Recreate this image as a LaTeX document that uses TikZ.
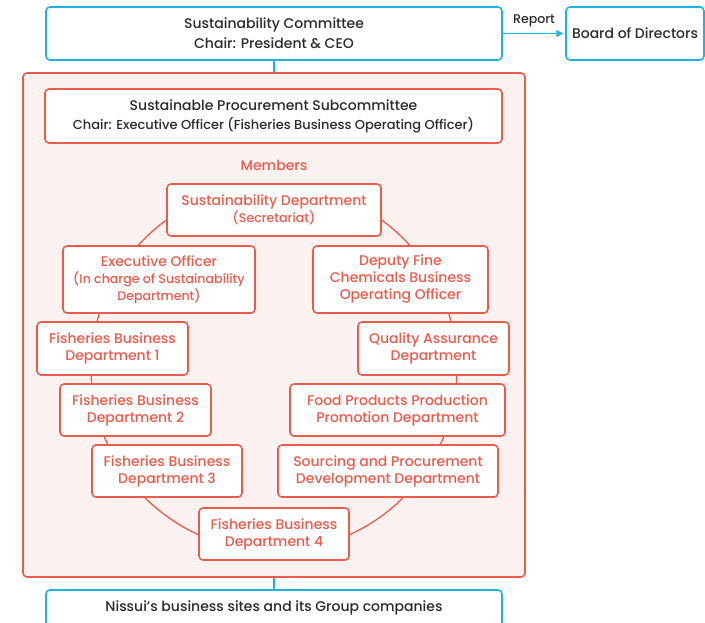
\documentclass[tikz,border=0pt]{standalone}
\usepackage{fontspec}
\setmainfont{Poppins Medium}
\usetikzlibrary{arrows.meta}
\definecolor{nsblue}{HTML}{1BB3E0}
\definecolor{nsred}{HTML}{EB5B4C}
\definecolor{nspink}{HTML}{FEF2F1}
\definecolor{nstext}{HTML}{2B2B2B}
\newcommand{\sm}{\fontsize{12.6}{15}\selectfont}

\begin{document}
\begin{tikzpicture}[x=1pt, y=-1pt, >={Triangle[length=2.4mm, width=2.4mm]}, line width=1.6pt,
  bluebox/.style={draw=nsblue, rounded corners=4pt, fill=white, align=center, text=nstext,
    font=\fontsize{14}{20}\selectfont, inner sep=0pt},
  redbox/.style={draw=nsred, rounded corners=4pt, fill=white, align=center, text=nsred,
    font=\fontsize{14}{17}\selectfont, inner sep=0pt}]
  \useasboundingbox (0,0) rectangle (705,622);
  % committee and board
  \node[bluebox, minimum width=456pt, minimum height=53pt] (committee) at (274,33.5)
    {Sustainability Committee\\ Chair: President \& CEO};
  \node[bluebox, minimum width=138pt, minimum height=53pt] (board) at (635,33.5) {Board of Directors};
  \draw[->, nsblue, shorten >=2pt] (committee.east) -- (board.west)
    node[midway, above=3pt, text=nstext, font=\fontsize{12.6}{14}\selectfont] {Report};
  % subcommittee frame
  \node[draw=nsred, fill=nspink, rounded corners=4pt, minimum width=502pt, minimum height=504pt] (frame) at (274,325) {};
  \draw[nsblue] (committee.south) -- (frame.north);
  \node[redbox, text=nstext, minimum width=457pt, minimum height=54pt,
    font=\fontsize{14}{19}\selectfont] (subcom) at (273.5,116)
    {Sustainable Procurement Subcommittee\\ {\fontsize{13}{19}\selectfont Chair: Executive Officer (Fisheries Business Operating Officer)}};
  \node[text=nsred, font=\fontsize{14}{17}\selectfont] (members) at (274,165) {Members};
  % ring of members
  \coordinate (ring) at (274,368);
  \draw[nsred, line width=1.3pt] (ring) circle (183pt);
  \node[redbox, minimum width=214pt, minimum height=52pt] (susdept) at (274,210)
    {Sustainability Department\\ {\sm (Secretariat)}};
  \node[redbox, minimum width=192pt, minimum height=67pt] (execoff) at (159,279.5)
    {Executive Officer\\ {\sm (In charge of Sustainability}\\ {\sm Department)}};
  \node[redbox, minimum width=175pt, minimum height=67pt] (deputy) at (400.5,279.5)
    {Deputy Fine\\ Chemicals Business\\ Operating Officer};
  \node[redbox, minimum width=151pt, minimum height=53pt] (fb1) at (112.5,348.5)
    {Fisheries Business\\ Department 1};
  \node[redbox, minimum width=151pt, minimum height=53pt] (qa) at (433.5,348.5)
    {Quality Assurance\\ Department};
  \node[redbox, minimum width=151pt, minimum height=52pt] (fb2) at (135.5,410)
    {Fisheries Business\\ Department 2};
  \node[redbox, minimum width=215pt, minimum height=52pt] (food) at (397.5,410)
    {Food Products Production\\ Promotion Department};
  \node[redbox, minimum width=150pt, minimum height=52pt] (fb3) at (167,471)
    {Fisheries Business\\ Department 3};
  \node[redbox, minimum width=220pt, minimum height=52pt] (sourcing) at (388,471)
    {Sourcing and Procurement\\ Development Department};
  \node[redbox, minimum width=150pt, minimum height=52pt] (fb4) at (274,534)
    {Fisheries Business\\ Department 4};
  % group companies
  \node[bluebox, minimum width=456pt, minimum height=36pt] (sites) at (274,608)
    {Nissui's business sites and its Group companies};
  \draw[nsblue] (frame.south) -- (sites.north);
\end{tikzpicture}
\end{document}
